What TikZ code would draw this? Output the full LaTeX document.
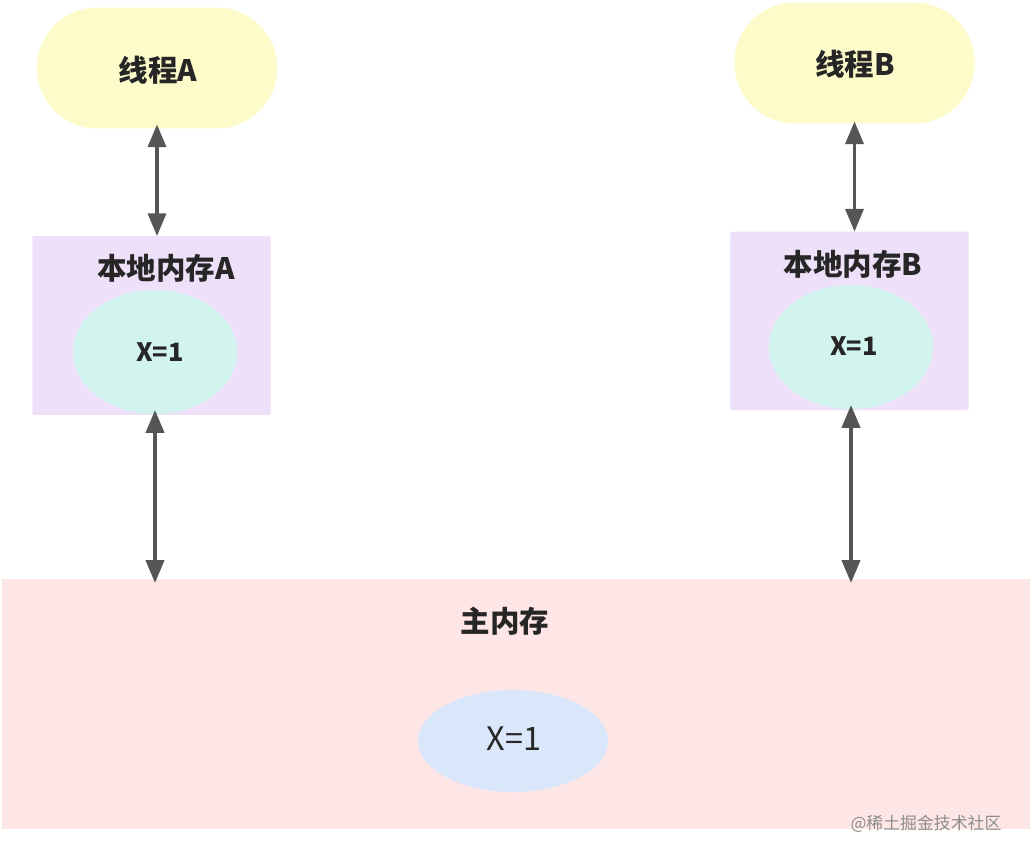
\documentclass[tikz,border=0pt]{standalone}
\usepackage{fontspec}
\usepackage{xcolor}
\usepackage{tikz}
\usetikzlibrary{arrows,shapes.geometric}
\setmainfont{Noto Sans CJK SC}

\definecolor{threadYellow}{HTML}{FCFBC9}
\definecolor{localLilac}{HTML}{EDE0F8}
\definecolor{varMint}{HTML}{D2F4EE}
\definecolor{mainPink}{HTML}{FFE6E6}
\definecolor{varBlue}{HTML}{DAE6F9}
\definecolor{arrowGrey}{HTML}{555555}
\definecolor{textDark}{HTML}{262626}

\tikzset{
  threadbox/.style={fill=threadYellow,rounded corners=1.5cm,minimum width=6cm,minimum height=3.02cm,inner sep=0pt},
  localbox/.style={fill=localLilac,rounded corners=1pt,minimum width=5.95cm,minimum height=4.47cm,inner sep=0pt},
  localvar/.style={ellipse,fill=varMint,minimum width=4.1cm,minimum height=3.1cm,inner sep=0pt},
  mainbox/.style={fill=mainPink,minimum width=25.7cm,minimum height=6.25cm,inner sep=0pt},
  mainvar/.style={ellipse,fill=varBlue,minimum width=4.75cm,minimum height=2.55cm,inner sep=0pt},
  title/.style={text=textDark,font=\fontsize{21}{24}\selectfont\bfseries},
  link/.style={<->,>=triangle 45,draw=arrowGrey,line width=2.8pt}
}

\begin{document}
\begin{tikzpicture}[x=0.025cm,y=-0.025cm]
  \useasboundingbox (0,0) rectangle (1030,857);
  % main memory
  \path (516.5,704) node[mainbox] (mem) {};
  \path (505,621) node[title] (memTitle) {主内存};
  \path (513,741) node[mainvar] (memVar) {};
  \path (514,739) node[text=textDark,font=\fontsize{23}{26}\selectfont] (memX) {X=1};

  % thread A side
  \path (157,68) node[threadbox] (threadA) {};
  \path (158,70) node[title] (threadAText) {线程A};
  \path (151.5,325.5) node[localbox] (localA) {};
  \path (166,268) node[title] (localATitle) {本地内存A};
  \path (155,352) node[localvar] (varA) {};
  \path (160,352) node[text=textDark,font=\fontsize{18}{21}\selectfont\bfseries] (varAText) {X=1};

  % thread B side
  \path (854.5,63) node[threadbox] (threadB) {};
  \path (855,64) node[title] (threadBText) {线程B};
  \path (849.5,321) node[localbox] (localB) {};
  \path (853,264) node[title] (localBTitle) {本地内存B};
  \path (851,347) node[localvar] (varB) {};
  \path (854,346) node[text=textDark,font=\fontsize{18}{21}\selectfont\bfseries] (varBText) {X=1};

  % connectors
  \draw[link] ([yshift=0.1cm]threadA.south) -- (threadA.south |- localA.north);
  \draw[link] ([yshift=0.05cm]threadB.south) -- (threadB.south |- localB.north);
  \draw[link] ([yshift=0.1cm]varA.south) -- ([yshift=-0.1cm]varA.south |- mem.north);
  \draw[link] ([yshift=0.1cm]varB.south) -- ([yshift=-0.1cm]varB.south |- mem.north);

  % watermark
  \path (926,824) node[text=black!45,font=\fontsize{12}{14}\selectfont] (mark) {@稀土掘金技术社区};
\end{tikzpicture}
\end{document}
